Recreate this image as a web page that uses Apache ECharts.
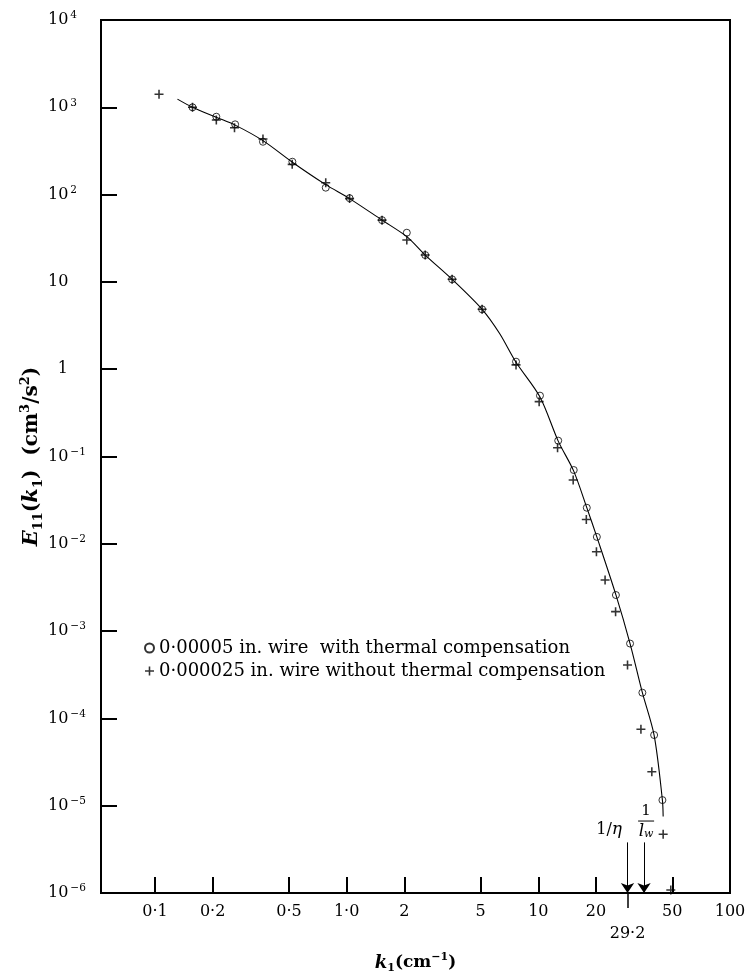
<!DOCTYPE html>
<html>
<head>
<meta charset="utf-8">
<script src="https://cdn.jsdelivr.net/npm/echarts@6/dist/echarts.min.js"></script>
<style>
  html, body { margin: 0; padding: 0; background: #fff; }
  #chart { width: 749px; height: 972px; }
</style>
</head>
<body>
<div id="chart"></div>
<script>
// One-dimensional spectrum E11(k1) against wavenumber k1, log-log.

// 0.00005 in. wire with thermal compensation (open circles)
const circleK = [0.157, 0.209, 0.262, 0.366, 0.521, 0.778, 1.036, 1.53, 2.06, 2.57, 3.55, 5.09,
                 7.65, 10.2, 12.7, 15.3, 17.9, 20.2, 25.4, 30.1, 34.9, 40.2, 44.4];
const circleE = [1000, 780, 638, 403, 238, 120, 91, 51, 36.6, 20.3, 10.7, 4.85,
                 1.22, 0.498, 0.152, 0.070, 0.0259, 0.0120, 0.00259, 7.2e-4, 1.97e-4, 6.45e-5, 1.16e-5];

// 0.000025 in. wire without thermal compensation (crosses)
const plusK = [0.105, 0.157, 0.209, 0.26, 0.366, 0.52, 0.778, 1.036, 1.53, 2.06, 2.57, 3.55, 5.09,
               7.65, 10.1, 12.6, 15.2, 17.8, 20.1, 22.3, 25.3, 29.2, 34.3, 39.1, 44.8, 49.1];
const plusE = [1410, 1000, 716, 584, 434, 222, 137, 90, 51, 30.2, 20.3, 10.7, 4.85,
               1.12, 0.425, 0.126, 0.0538, 0.0190, 0.0081, 0.00385, 0.00167, 4.09e-4, 7.5e-5, 2.45e-5, 4.7e-6, 1.08e-6];

// Faired curve through the compensated measurements
const curveK = [0.131, 0.157, 0.21, 0.262, 0.366, 0.521, 0.778, 1.036, 1.53, 2.06, 2.57, 3.55, 5.09,
                6.27, 7.65, 10.2, 12.7, 15.3, 17.9, 20.2, 25.4, 30.1, 34.9, 40.2, 44.4, 44.8];
const curveE = [1240, 1000, 765, 625, 415, 235, 130, 90, 51, 33, 20.3, 10.7, 4.85,
                2.58, 1.2, 0.48, 0.15, 0.068, 0.026, 0.012, 0.0026, 7.2e-4, 1.97e-4, 6.4e-5, 1.16e-5, 7.5e-6];

// Wavenumber tick marks and their printed labels
const xTickValues = [0.1, 0.2, 0.5, 1, 2, 5, 10, 20, 50, 100];
const xTickLabels = ['0·1', '0·2', '0·5', '1·0', '2', '5', '10', '20', '50', '100'];

// Cut-off wavenumbers marked by arrows
const kEta = 29.2;   // 1/η
const kWire = 35.6;  // 1/l_w
const kEtaLabel = '29·2';

const legendNames = [
  '0·00005 in. wire  with thermal compensation',
  '0·000025 in. wire without thermal compensation'
];

const xMin = 0.0523, xMax = 100;
const yMin = 1e-6, yMax = 1e4;
const arrowTopE = 3.8e-6;

const FONT = "'DejaVu Serif', 'Liberation Serif', serif";
const PLUS = 'path://M0,6.6h16v2.8h-16zM6.6,0h2.8v16h-2.8z';

const lg = Math.log10;
const pairs = (ks, es) => ks.map((k, i) => [k, es[i]]);

const chart = echarts.init(document.getElementById('chart'), null, { renderer: 'canvas' });

const option = {
  animation: false,
  backgroundColor: '#fff',
  textStyle: { fontFamily: FONT, color: '#000' },
  grid: {
    left: 101, top: 20, right: 19, bottom: 79,
    outerBoundsMode: 'none',
    containLabel: false,
    show: true, borderColor: '#000', borderWidth: 2, backgroundColor: 'transparent'
  },
  legend: {
    orient: 'vertical',
    left: 139, top: 634,
    itemWidth: 9, itemHeight: 9, itemGap: 5,
    textStyle: { fontFamily: FONT, fontSize: 18, color: '#000' },
    data: legendNames
  },
  xAxis: [
    { // data scale (logarithmic)
      type: 'log', logBase: 10, min: xMin, max: xMax, show: false
    },
    { // printed wavenumber scale
      type: 'value', min: lg(xMin), max: lg(xMax), position: 'bottom',
      axisLine: { show: true, onZero: false, lineStyle: { color: '#000', width: 2 } },
      axisTick: { show: true, inside: true, length: 16, lineStyle: { color: '#000', width: 2 },
                  customValues: xTickValues.map(lg) },
      axisLabel: {
        show: true, margin: 11, fontFamily: FONT, fontSize: 16, color: '#000',
        customValues: xTickValues.map(lg),
        formatter: v => {
          let best = 0;
          xTickValues.forEach((t, i) => { if (Math.abs(lg(t) - v) < Math.abs(lg(xTickValues[best]) - v)) best = i; });
          return xTickLabels[best];
        }
      },
      splitLine: { show: false },
      name: '{k|k}{s|1}{n|(cm}{e|−1}{n|)}',
      nameLocation: 'middle', nameGap: 59,
      nameTextStyle: {
        rich: {
          k: { fontFamily: FONT, fontSize: 18, fontWeight: 'bold', fontStyle: 'italic', lineHeight: 22 },
          s: { fontFamily: FONT, fontSize: 11, fontWeight: 'bold', verticalAlign: 'bottom' },
          n: { fontFamily: FONT, fontSize: 17, fontWeight: 'bold', lineHeight: 22 },
          e: { fontFamily: FONT, fontSize: 11, fontWeight: 'bold', verticalAlign: 'top' }
        }
      }
    },
    { // 1/η tick hanging below the axis
      type: 'value', min: lg(xMin), max: lg(xMax), position: 'bottom',
      axisLine: { show: false, onZero: false },
      axisTick: { show: true, inside: false, length: 15, lineStyle: { color: '#000', width: 1.5 },
                  customValues: [lg(kEta)] },
      axisLabel: { show: true, margin: 33, fontFamily: FONT, fontSize: 16, color: '#000',
                   customValues: [lg(kEta)], formatter: () => kEtaLabel },
      splitLine: { show: false }
    }
  ],
  yAxis: {
    type: 'log', logBase: 10, min: yMin, max: yMax, interval: 1,
    axisLine: { show: true, onZero: false, lineStyle: { color: '#000', width: 2 } },
    axisTick: { show: true, inside: true, length: 16, lineStyle: { color: '#000', width: 2 } },
    minorTick: { show: false },
    splitLine: { show: false },
    axisLabel: {
      show: true, align: 'left', margin: 53,
      formatter: v => {
        const p = Math.round(lg(v));
        if (p === 0) return '{one|1}';
        if (p === 1) return '{b|10}';
        return '{b|10}{e|' + (p < 0 ? '−' + (-p) : p) + '}';
      },
      rich: {
        b: { fontFamily: FONT, fontSize: 16, lineHeight: 20, color: '#000' },
        one: { fontFamily: FONT, fontSize: 16, lineHeight: 20, width: 20, align: 'right', color: '#000' },
        e: { fontFamily: FONT, fontSize: 10.5, verticalAlign: 'top', padding: [0, 0, 0, 2], color: '#000' }
      }
    },
    name: '{E|E}{s|11}{n|(}{k|k}{s|1}{n|)  (cm}{e|3}{n|/s}{e|2}{n|)}',
    nameLocation: 'middle', nameRotate: 90, nameGap: 56,
    nameMoveOverlap: false,
    nameTextStyle: {
      rich: {
        E: { fontFamily: FONT, fontSize: 21, fontWeight: 'bold', fontStyle: 'italic', lineHeight: 26 },
        k: { fontFamily: FONT, fontSize: 21, fontWeight: 'bold', fontStyle: 'italic', lineHeight: 26 },
        s: { fontFamily: FONT, fontSize: 13, fontWeight: 'bold', verticalAlign: 'bottom' },
        n: { fontFamily: FONT, fontSize: 20, fontWeight: 'bold', lineHeight: 26 },
        e: { fontFamily: FONT, fontSize: 13, fontWeight: 'bold', verticalAlign: 'top' }
      }
    }
  },
  series: [
    {
      type: 'line',
      xAxisIndex: 0, yAxisIndex: 0,
      data: pairs(curveK, curveE),
      smooth: 0.3,
      showSymbol: false, symbol: 'none',
      lineStyle: { color: '#000', width: 1.1 },
      silent: true, z: 2,
      markLine: {
        silent: true,
        symbol: ['none', 'arrow'],
        symbolSize: 10,
        label: { show: false },
        lineStyle: { color: '#000', width: 1, type: 'solid' },
        data: [
          [{ coord: [kEta, arrowTopE] }, { coord: [kEta, yMin] }],
          [{ coord: [kWire, arrowTopE] }, { coord: [kWire, yMin] }]
        ]
      },
      markPoint: {
        silent: true,
        symbol: 'circle', symbolSize: 0,
        itemStyle: { color: 'transparent' },
        data: [
          {
            coord: [23.4, 5.27e-6],
            label: {
              show: true, position: 'inside', formatter: '{n|1/}{i|η}',
              rich: {
                n: { fontFamily: FONT, fontSize: 16, color: '#000' },
                i: { fontFamily: FONT, fontSize: 17, fontStyle: 'italic', color: '#000' }
              }
            }
          },
          {
            coord: [36.5, 6.5e-6],
            label: {
              show: true, position: 'inside', align: 'center',
              formatter: '{one|1}\n{bar| }\n{l|l}{w|w}',
              rich: {
                one: { fontFamily: FONT, fontSize: 15, lineHeight: 15, color: '#000', align: 'center' },
                bar: { fontSize: 1, width: 16, height: 1, lineHeight: 4, backgroundColor: '#000', align: 'center' },
                l: { fontFamily: FONT, fontSize: 17, fontStyle: 'italic', lineHeight: 17, color: '#000' },
                w: { fontFamily: FONT, fontSize: 11, fontStyle: 'italic', verticalAlign: 'bottom', color: '#000' }
              }
            }
          }
        ]
      }
    },
    {
      name: legendNames[0],
      type: 'scatter',
      xAxisIndex: 0, yAxisIndex: 0,
      data: pairs(circleK, circleE),
      symbol: 'circle', symbolSize: 7,
      itemStyle: { color: 'rgba(255,255,255,0)', borderColor: '#000', borderWidth: 1 },
      z: 3
    },
    {
      name: legendNames[1],
      type: 'scatter',
      xAxisIndex: 0, yAxisIndex: 0,
      data: pairs(plusK, plusE),
      symbol: PLUS, symbolSize: 9,
      itemStyle: { color: '#000' },
      z: 4
    }
  ]
};

chart.setOption(option);
</script>
</body>
</html>
